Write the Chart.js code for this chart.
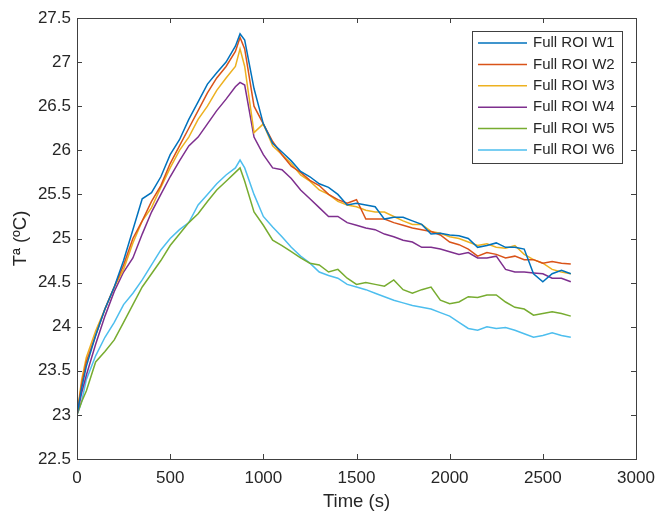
<!DOCTYPE html>
<html>
<head>
<meta charset="utf-8">
<script src="https://cdn.jsdelivr.net/npm/chart.js@4.4.1/dist/chart.umd.min.js"></script>
<style>
  html, body { margin: 0; padding: 0; background: #fff; }
  #wrap { width: 657px; height: 513px; }
</style>
</head>
<body>
<div id="wrap"><canvas id="tempChart" width="657" height="513"></canvas></div>
<script>
// time samples (s), shared by all six series
var times = [0, 25, 50, 100, 150, 200, 250, 300, 350, 400, 450, 500, 550, 600, 650, 700, 750, 800, 850, 875,
  900, 950, 1000, 1050, 1100, 1150, 1200, 1250, 1300, 1350, 1400, 1450, 1500, 1550, 1600, 1650, 1700, 1750,
  1800, 1850, 1900, 1950, 2000, 2050, 2100, 2150, 2200, 2250, 2300, 2350, 2400, 2450, 2500, 2550, 2600, 2650];

var labels = ['Full ROI W1', 'Full ROI W2', 'Full ROI W3', 'Full ROI W4', 'Full ROI W5', 'Full ROI W6'];
var colors = ['#0072BD', '#D95319', '#EDB120', '#7E2F8E', '#77AC30', '#4DBEEE'];

var w1 = [23.0, 23.3, 23.55, 23.9, 24.2, 24.45, 24.75, 25.1, 25.45, 25.52, 25.7, 25.95, 26.12, 26.35, 26.55, 26.75, 26.88, 27.0, 27.18, 27.32,
  27.25, 26.7, 26.3, 26.08, 25.98, 25.88, 25.76, 25.7, 25.62, 25.58, 25.5, 25.38, 25.4, 25.38, 25.36, 25.22, 25.24, 25.24,
  25.2, 25.16, 25.05, 25.06, 25.04, 25.03, 25.0, 24.9, 24.92, 24.95, 24.9, 24.9, 24.88, 24.6, 24.51, 24.6, 24.64, 24.6];
var w2 = [23.0, 23.35, 23.6, 23.9, 24.2, 24.45, 24.7, 25.0, 25.2, 25.42, 25.6, 25.85, 26.05, 26.25, 26.45, 26.65, 26.82, 26.95, 27.12, 27.28,
  27.15, 26.5, 26.3, 26.1, 25.95, 25.82, 25.75, 25.66, 25.6, 25.5, 25.44, 25.4, 25.44, 25.22, 25.22, 25.22, 25.18, 25.15,
  25.12, 25.1, 25.08, 25.04, 24.96, 24.93, 24.88, 24.8, 24.84, 24.82, 24.78, 24.8, 24.76, 24.76, 24.72, 24.74, 24.72, 24.71];
var w3 = [23.0, 23.4, 23.65, 23.95, 24.2, 24.45, 24.65, 24.95, 25.2, 25.35, 25.58, 25.8, 26.0, 26.15, 26.35, 26.5, 26.68, 26.82, 26.95, 27.15,
  26.95, 26.2, 26.3, 26.05, 25.95, 25.85, 25.72, 25.65, 25.55, 25.5, 25.42, 25.38, 25.36, 25.32, 25.3, 25.3, 25.25, 25.2,
  25.16, 25.16, 25.08, 25.06, 25.02, 25.0, 24.96, 24.92, 24.94, 24.9, 24.89, 24.92, 24.82, 24.76, 24.72, 24.65, 24.62, 24.6];
var w4 = [23.0, 23.25, 23.45, 23.8, 24.12, 24.4, 24.62, 24.78, 25.05, 25.3, 25.5, 25.7, 25.88, 26.05, 26.15, 26.3, 26.45, 26.58, 26.72, 26.77,
  26.74, 26.15, 25.95, 25.8, 25.78, 25.68, 25.55, 25.45, 25.35, 25.25, 25.25, 25.18, 25.15, 25.12, 25.1, 25.05, 25.02, 24.98,
  24.96, 24.9, 24.9, 24.88, 24.85, 24.82, 24.84, 24.78, 24.78, 24.8, 24.65, 24.62, 24.62, 24.61, 24.6, 24.55, 24.55, 24.51];
var w5 = [23.0, 23.15, 23.27, 23.6, 23.72, 23.85, 24.05, 24.25, 24.45, 24.6, 24.75, 24.92, 25.05, 25.18, 25.28, 25.42, 25.55, 25.65, 25.75, 25.8,
  25.65, 25.3, 25.15, 24.98, 24.92, 24.85, 24.78, 24.72, 24.7, 24.62, 24.65, 24.55, 24.48, 24.5, 24.48, 24.46, 24.53, 24.42,
  24.38, 24.42, 24.45, 24.3, 24.26, 24.28, 24.34, 24.33, 24.36, 24.36, 24.28, 24.22, 24.2, 24.13, 24.15, 24.17, 24.15, 24.12];
var w6 = [23.0, 23.15, 23.4, 23.67, 23.88, 24.05, 24.25, 24.38, 24.53, 24.7, 24.87, 25.0, 25.1, 25.18, 25.38, 25.5, 25.62, 25.72, 25.8, 25.89,
  25.8, 25.5, 25.25, 25.13, 25.02, 24.9, 24.8, 24.72, 24.62, 24.58, 24.55, 24.48, 24.45, 24.42, 24.38, 24.34, 24.3, 24.27,
  24.24, 24.22, 24.2, 24.16, 24.12, 24.05, 23.98, 23.96, 24.0, 23.98, 23.99, 23.96, 23.92, 23.88, 23.9, 23.93, 23.9, 23.88];

var series = [w1, w2, w3, w4, w5, w6];
var axisColor = '#404040';
var textColor = '#262626';
var fontFamily = '"Liberation Sans", Arial, sans-serif';

// MATLAB-like box with inward ticks on all four sides
var boxTicks = {
  id: 'boxTicks',
  afterDraw: function (chart) {
    var ctx = chart.ctx, a = chart.chartArea;
    var xs = chart.scales.x, ys = chart.scales.y;
    var len = 5;
    ctx.save();
    ctx.strokeStyle = axisColor;
    ctx.lineWidth = 1;
    ctx.beginPath();
    xs.ticks.forEach(function (t) {
      var px = Math.round(xs.getPixelForValue(t.value)) + 0.5;
      ctx.moveTo(px, a.bottom); ctx.lineTo(px, a.bottom - len);
      ctx.moveTo(px, a.top); ctx.lineTo(px, a.top + len);
    });
    ys.ticks.forEach(function (t) {
      var py = Math.round(ys.getPixelForValue(t.value)) + 0.5;
      ctx.moveTo(a.left, py); ctx.lineTo(a.left + len, py);
      ctx.moveTo(a.right, py); ctx.lineTo(a.right - len, py);
    });
    ctx.stroke();
    ctx.strokeRect(Math.round(a.left) + 0.5, Math.round(a.top) + 0.5,
      Math.round(a.right - a.left), Math.round(a.bottom - a.top));
    ctx.restore();
  }
};

// legend box in the upper right of the axes
var boxLegend = {
  id: 'boxLegend',
  afterDraw: function (chart) {
    var ctx = chart.ctx, a = chart.chartArea;
    var w = 150, rowH = 21.4, h = 132;
    var x0 = a.right - 14 - w, y0 = a.top + 13;
    ctx.save();
    ctx.fillStyle = '#fff';
    ctx.fillRect(x0, y0, w, h);
    ctx.strokeStyle = axisColor;
    ctx.lineWidth = 1;
    ctx.strokeRect(Math.round(x0) + 0.5, Math.round(y0) + 0.5, w, h);
    ctx.font = '15px ' + fontFamily;
    ctx.textBaseline = 'middle';
    ctx.fillStyle = textColor;
    chart.data.datasets.forEach(function (ds, i) {
      var cy = y0 + 12 + i * rowH;
      ctx.strokeStyle = ds.borderColor;
      ctx.lineWidth = 1.5;
      ctx.beginPath();
      ctx.moveTo(x0 + 6, cy); ctx.lineTo(x0 + 55, cy);
      ctx.stroke();
      ctx.fillText(ds.label, x0 + 61, cy);
    });
    ctx.restore();
  }
};

var datasets = series.map(function (vals, i) {
  return {
    label: labels[i],
    data: times.map(function (t, j) { return { x: t, y: vals[j] }; }),
    borderColor: colors[i],
    backgroundColor: colors[i],
    borderWidth: 1.5,
    pointRadius: 0,
    tension: 0,
    fill: false
  };
});

new Chart(document.getElementById('tempChart'), {
  type: 'line',
  data: { datasets: datasets },
  plugins: [boxTicks, boxLegend],
  options: {
    responsive: false,
    animation: false,
    layout: { padding: { left: 0, right: 21, top: 18, bottom: 0 } },
    plugins: { legend: { display: false }, tooltip: { enabled: false } },
    scales: {
      x: {
        type: 'linear',
        min: 0, max: 3000,
        border: { display: false },
        grid: { display: false, drawTicks: false },
        ticks: {
          stepSize: 500, padding: 9, color: textColor,
          font: { family: fontFamily, size: 17 },
          maxRotation: 0,
          callback: function (v) { return String(v); }
        },
        title: { display: true, text: 'Time (s)', color: textColor, font: { family: fontFamily, size: 18.5 }, padding: 0 },
        afterFit: function (s) { s.height = 54; s.paddingLeft = 0; s.paddingRight = 0; }
      },
      y: {
        type: 'linear',
        min: 22.5, max: 27.5,
        border: { display: false },
        grid: { display: false, drawTicks: false },
        ticks: {
          stepSize: 0.5, padding: 6, color: textColor,
          font: { family: fontFamily, size: 17 },
          callback: function (v) { return String(v); }
        },
        title: { display: true, text: 'Tª (ºC)', color: textColor, font: { family: fontFamily, size: 18.5 }, padding: { top: 10, bottom: 0 } },
        afterFit: function (s) { s.width = 77; s.paddingTop = 0; s.paddingBottom = 0; }
      }
    }
  }
});
</script>
</body>
</html>
